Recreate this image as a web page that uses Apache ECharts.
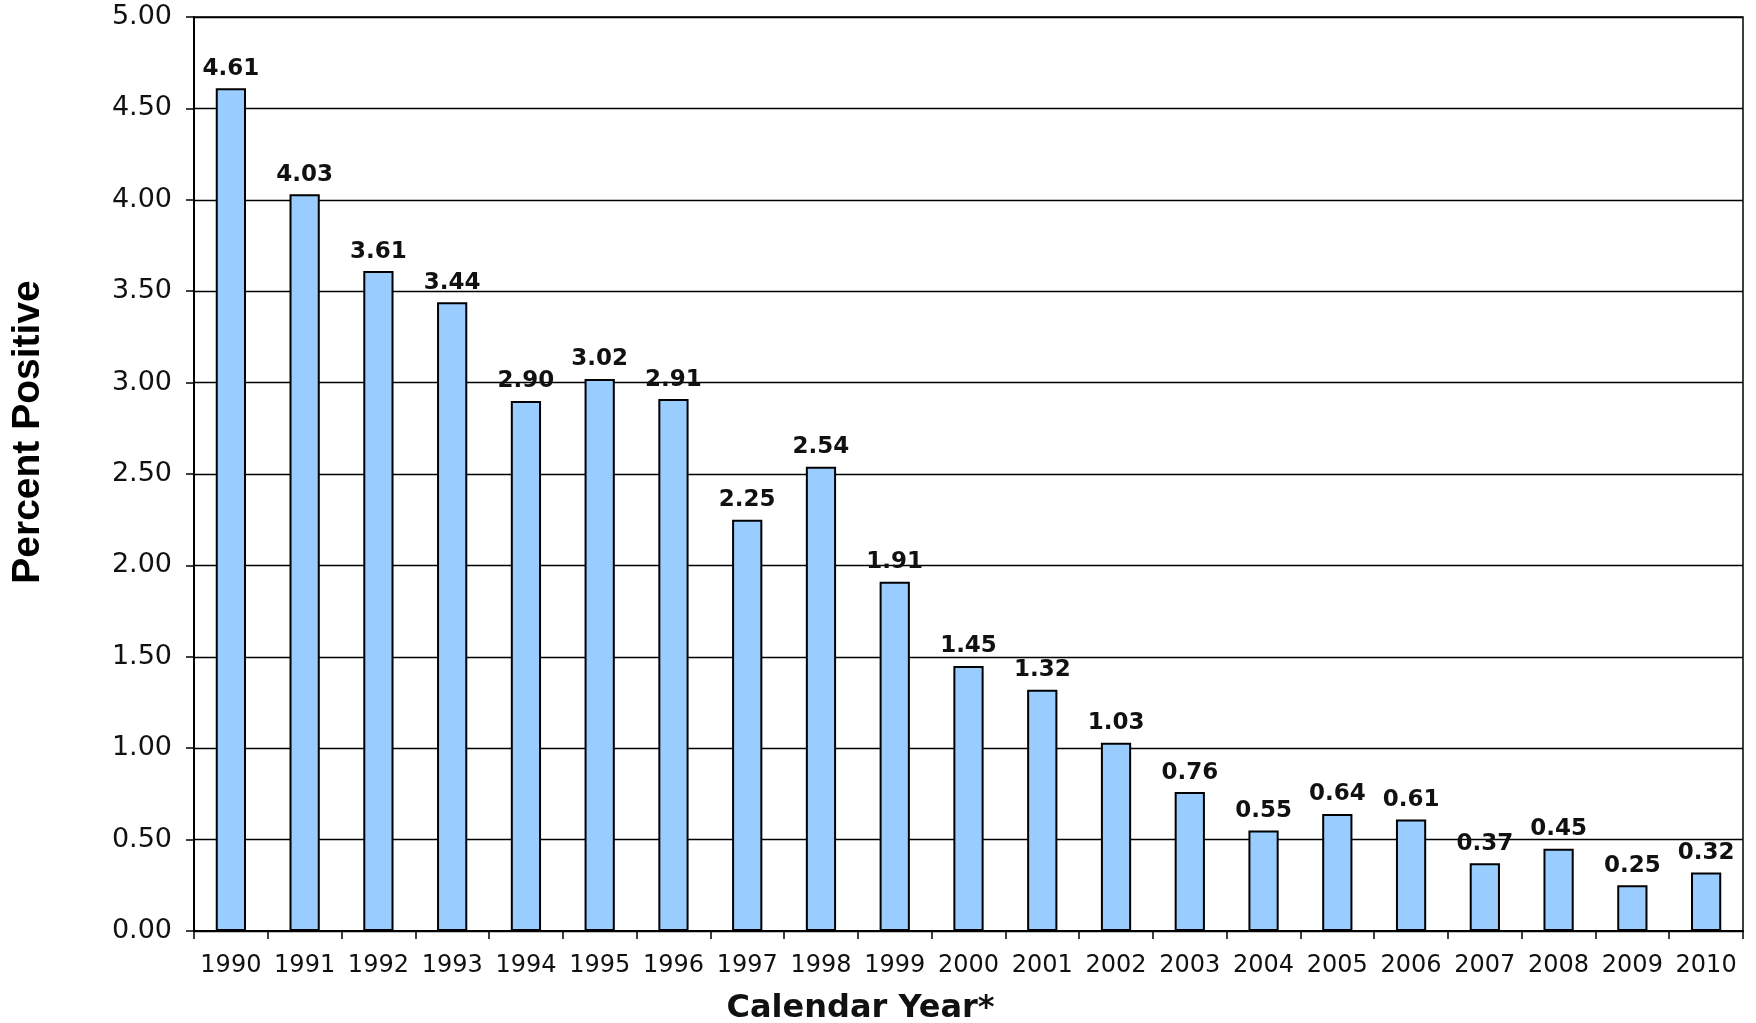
<!DOCTYPE html>
<html>
<head>
<meta charset="utf-8">
<script src="https://cdn.jsdelivr.net/npm/echarts@6/dist/echarts.min.js"></script>
<style>
html,body{margin:0;padding:0;background:#fff;}
#chart{width:1756px;height:1023px;}
</style>
</head>
<body>
<div id="chart"></div>
<script>
const years = ['1990','1991','1992','1993','1994','1995','1996','1997','1998','1999','2000','2001','2002','2003','2004','2005','2006','2007','2008','2009','2010'];
const percentPositive = [4.61,4.03,3.61,3.44,2.90,3.02,2.91,2.25,2.54,1.91,1.45,1.32,1.03,0.76,0.55,0.64,0.61,0.37,0.45,0.25,0.32];
const yTicks = { min: 0, max: 5, interval: 0.5 };

const chart = echarts.init(document.getElementById('chart'));
chart.setOption({
  animation: false,
  backgroundColor: '#ffffff',
  grid: { left: 194, right: 13, top: 17, bottom: 92, containLabel: false, outerBoundsMode: 'none', show: true, borderColor: '#000', borderWidth: 1.5, backgroundColor: 'transparent' },
  xAxis: {
    type: 'category',
    data: years,
    boundaryGap: true,
    axisLine: { lineStyle: { color: '#000', width: 2 } },
    axisTick: { show: true, interval: 0, alignWithLabel: false, length: 8, lineStyle: { color: '#000', width: 1.5 } },
    axisLabel: { interval: 0, color: '#111', fontFamily: 'DejaVu Sans', fontSize: 24, margin: 23, hideOverlap: false },
    name: 'Calendar Year*',
    nameLocation: 'middle',
    nameGap: 62,
    nameTextStyle: { color: '#111', fontFamily: 'DejaVu Sans', fontWeight: 'bold', fontSize: 32, padding: [0, 216, 0, 0] }
  },
  yAxis: {
    type: 'value',
    min: yTicks.min, max: yTicks.max, interval: yTicks.interval,
    axisLine: { show: true, lineStyle: { color: '#000', width: 2 } },
    axisTick: { show: true, length: 8, lineStyle: { color: '#000', width: 1.5 } },
    splitLine: { show: true, lineStyle: { color: '#000', width: 1.3 } },
    axisLabel: { color: '#111', fontFamily: 'DejaVu Sans', fontSize: 27, margin: 22, formatter: v => v.toFixed(2) },
    name: 'Percent Positive',
    nameLocation: 'middle',
    nameGap: 146,
    nameTextStyle: { color: '#000', fontFamily: 'Liberation Sans', fontWeight: 'bold', fontSize: 39, padding: [0, 0, 0, 84] }
  },
  series: [{
    type: 'bar',
    data: percentPositive,
    barWidth: '41%',
    itemStyle: { color: '#99CCFF', borderColor: '#000', borderWidth: 2 },
    label: {
      show: true, position: 'top', distance: 8,
      color: '#111', fontFamily: 'DejaVu Sans', fontWeight: 'bold', fontSize: 23,
      formatter: p => p.value.toFixed(2)
    }
  }]
});
</script>
</body>
</html>
